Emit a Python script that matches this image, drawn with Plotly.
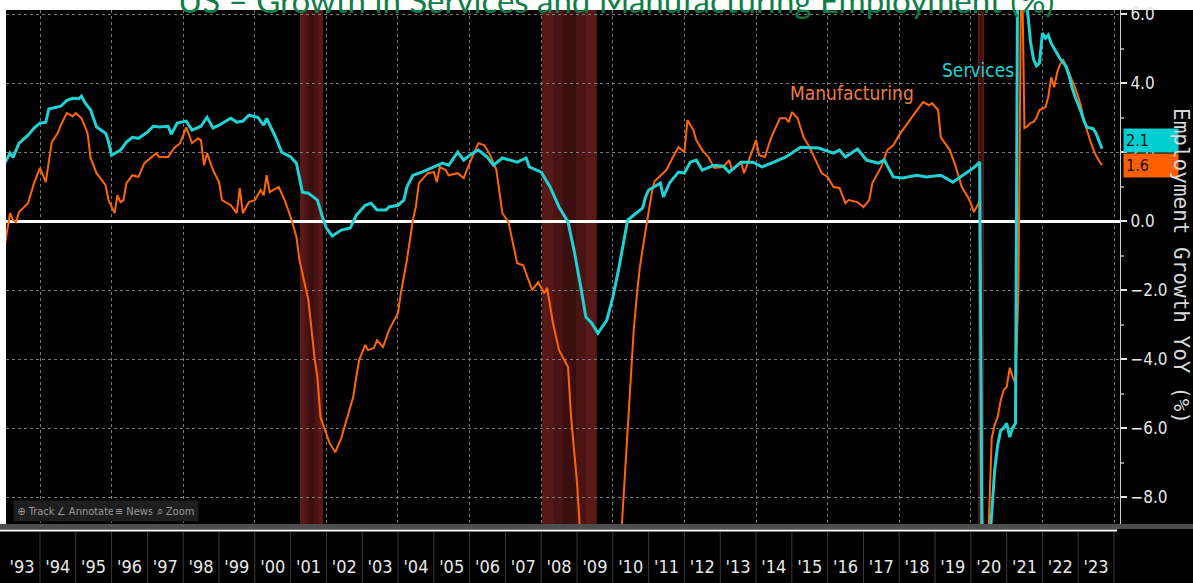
import pandas as pd
import plotly.graph_objects as go

# ---------------- data ----------------
S_DATES = ["1993-01","1993-03","1993-04","1993-06","1993-09","1993-11","1994-01","1994-03","1994-04","1994-06",
           "1994-08","1994-10","1994-12","1995-02","1995-03","1995-04","1995-06","1995-08","1995-11","1995-12",
           "1996-01","1996-04","1996-06","1996-08","1996-10","1997-01","1997-03","1997-05","1997-08","1997-09",
           "1997-11","1998-02","1998-04","1998-07","1998-09","1998-11","1999-01","1999-05","1999-07","1999-09",
           "1999-11","2000-02","2000-04","2000-05","2000-08","2000-10","2001-01","2001-03","2001-04","2001-05",
           "2001-07","2001-10","2001-12","2002-01","2002-03","2002-06","2002-09","2002-11","2003-02","2003-04",
           "2003-06","2003-09","2003-10","2004-01","2004-03","2004-04","2004-06","2004-09","2005-01","2005-04",
           "2005-06","2005-09","2005-11","2006-02","2006-04","2006-07","2006-09","2006-12","2007-05","2007-08",
           "2007-09","2008-01","2008-04","2008-07","2008-10","2008-12","2009-02","2009-04","2009-06","2009-08",
           "2009-11","2010-01","2010-03","2010-06","2010-08","2010-11","2010-12","2011-01","2011-05","2011-06",
           "2011-08","2011-11","2012-01","2012-03","2012-05","2012-07","2012-11","2013-02","2013-04","2013-08",
           "2013-12","2014-03","2014-07","2014-11","2015-04","2015-07","2015-10","2016-03","2016-05","2016-07",
           "2016-11","2017-02","2017-06","2017-08","2017-11","2018-02","2018-07","2018-10","2019-03","2019-07",
           "2019-12","2020-02","2020-04","2020-05","2020-06","2020-07","2020-08","2020-09","2020-10","2020-11",
           "2020-12","2021-01","2021-02","2021-03","2021-04","2021-05","2021-06","2021-07","2021-08","2021-09",
           "2021-10","2021-11","2021-12","2022-01","2022-02","2022-03","2022-04","2022-05","2022-06","2022-07",
           "2022-08","2022-09","2022-10","2022-11","2022-12","2023-01","2023-02","2023-03","2023-04","2023-05",
           "2023-06","2023-07","2023-08","2023-09"]
S_VALS = [1.65,1.97,1.85,2.26,2.49,2.70,2.84,2.87,3.25,3.30,
          3.33,3.50,3.56,3.55,3.62,3.45,3.22,2.73,2.55,2.30,
          1.91,2.06,2.29,2.43,2.40,2.58,2.75,2.73,2.75,2.52,
          2.84,2.90,2.64,2.75,3.01,2.70,2.78,2.98,2.87,2.90,
          3.07,3.01,2.78,2.98,2.43,2.00,1.86,1.68,1.30,0.84,
          0.81,0.61,0.03,-0.20,-0.43,-0.26,-0.20,0.17,0.46,0.52,
          0.32,0.32,0.41,0.46,0.61,0.99,1.33,1.42,1.57,1.68,
          1.62,2.00,1.77,1.97,2.06,1.85,1.62,1.83,1.71,1.83,
          1.57,1.42,0.99,0.41,-0.03,-0.84,-1.80,-2.78,-2.96,-3.25,
          -2.87,-2.20,-1.40,0.03,0.17,0.38,0.70,0.90,1.10,0.70,
          1.10,1.42,1.39,1.71,1.77,1.48,1.62,1.59,1.42,1.71,
          1.71,1.57,1.71,1.86,2.14,2.12,2.12,1.97,2.06,1.86,
          2.09,1.77,1.68,1.77,1.28,1.25,1.33,1.28,1.33,1.13,
          1.42,1.55,1.71,-13.5,-11.0,-9.8,-8.6,-7.2,-6.5,-6.06,
          -6.0,-5.86,-6.26,-6.0,-5.86,12.5,10.0,7.6,6.1,5.2,
          4.7,4.5,4.58,5.45,5.3,5.39,5.15,5.0,4.87,4.7,
          4.6,4.46,4.2,3.85,3.6,3.4,3.15,2.9,2.72,2.7,
          2.68,2.55,2.3,2.1]

M_DATES = ["1993-01","1993-03","1993-04","1993-05","1993-06","1993-09","1993-11","1994-01","1994-03","1994-05",
           "1994-07","1994-08","1994-10","1994-12","1995-01","1995-03","1995-05","1995-06","1995-08","1995-11",
           "1995-12","1996-02","1996-03","1996-04","1996-05","1996-06","1996-08","1996-10","1996-12","1997-02",
           "1997-04","1997-05","1997-08","1997-10","1997-12","1998-02","1998-04","1998-06","1998-07","1998-08",
           "1998-09","1998-11","1999-01","1999-02","1999-05","1999-07","1999-08","1999-09","1999-11","2000-01",
           "2000-03","2000-04","2000-05","2000-06","2000-09","2000-11","2001-01","2001-03","2001-04","2001-07",
           "2001-09","2001-10","2001-11","2002-02","2002-04","2002-06","2002-08","2002-10","2002-11","2002-12",
           "2003-02","2003-03","2003-05","2003-06","2003-08","2003-10","2004-01","2004-02","2004-04","2004-06",
           "2004-07","2004-08","2004-11","2005-01","2005-02","2005-03","2005-05","2005-06","2005-09","2005-11",
           "2006-01","2006-03","2006-04","2006-06","2006-08","2006-10","2006-12","2007-02","2007-04","2007-05",
           "2007-07","2007-09","2007-10","2007-12","2008-02","2008-03","2008-05","2008-07","2008-10","2008-11",
           "2009-01","2009-02","2009-04","2009-07","2009-10","2010-01","2010-03","2010-04","2010-05","2010-06",
           "2010-07","2010-08","2010-09","2010-10","2010-11","2010-12","2011-01","2011-02","2011-03","2011-05",
           "2011-07","2011-09","2011-11","2012-01","2012-02","2012-04","2012-05","2012-07","2012-09","2012-11",
           "2013-02","2013-04","2013-05","2013-08","2013-09","2013-11","2014-01","2014-02","2014-04","2014-06",
           "2014-09","2014-11","2014-12","2015-01","2015-03","2015-05","2015-07","2015-09","2015-11","2016-01",
           "2016-03","2016-05","2016-07","2016-08","2016-11","2017-01","2017-03","2017-04","2017-07","2017-09",
           "2017-11","2018-01","2018-04","2018-06","2018-09","2018-11","2018-12","2019-02","2019-03","2019-06",
           "2019-08","2019-10","2019-12","2020-01","2020-02","2020-03","2020-04","2020-05","2020-06","2020-07",
           "2020-08","2020-09","2020-10","2020-11","2020-12","2021-01","2021-02","2021-03","2021-04","2021-05",
           "2021-06","2021-07","2021-08","2021-09","2021-10","2021-11","2021-12","2022-01","2022-02","2022-03",
           "2022-04","2022-05","2022-06","2022-07","2022-08","2022-09","2022-10","2022-11","2022-12","2023-01",
           "2023-02","2023-03","2023-04","2023-05","2023-06","2023-07","2023-08","2023-09"]
M_VALS = [-0.80,0.23,0.03,-0.03,0.26,0.52,1.10,1.54,1.13,2.29,
          2.55,2.78,3.13,3.04,3.13,2.98,2.55,1.83,1.39,1.04,
          0.61,0.23,0.75,0.55,0.61,1.10,1.33,1.28,1.68,1.83,
          1.97,1.86,1.86,2.12,2.26,2.72,2.26,2.40,2.35,1.62,
          1.97,1.48,1.13,0.61,0.46,0.23,0.96,0.23,0.55,0.61,
          0.90,0.75,1.33,0.84,0.99,0.61,0.12,-0.46,-1.13,-2.29,
          -3.94,-4.52,-5.68,-6.43,-6.70,-6.29,-5.68,-5.10,-4.52,-4.03,
          -3.59,-3.74,-3.68,-3.45,-3.65,-3.16,-2.67,-2.06,-1.13,0.03,
          0.41,1.10,1.39,1.42,1.13,1.57,1.48,1.33,1.39,1.25,
          1.68,2.06,2.26,2.20,1.90,1.48,0.23,-0.03,-0.84,-1.22,
          -1.28,-1.80,-2.00,-1.77,-2.09,-1.94,-2.96,-3.74,-4.23,-5.68,
          -7.60,-9.0,-11.5,-13.0,-12.5,-11.0,-9.5,-8.9,-7.5,-6.0,
          -4.5,-3.2,-2.2,-1.4,-0.8,-0.3,0.3,0.8,1.15,1.33,
          1.48,1.83,2.14,2.00,2.93,2.64,2.35,2.06,1.86,1.54,
          1.57,1.77,1.48,1.71,1.39,1.86,2.35,1.91,1.86,2.40,
          2.98,2.98,2.87,3.16,2.98,2.43,2.14,1.77,1.39,1.28,
          0.99,0.96,0.52,0.61,0.55,0.41,0.61,1.10,1.57,2.06,
          2.20,2.50,2.87,3.10,3.45,3.36,3.42,3.22,2.43,2.06,
          1.57,0.99,0.70,0.52,0.26,0.40,0.58,-10.4,-9.6,-8.9,
          -6.3,-5.9,-5.68,-5.2,-4.9,-4.81,-4.25,-4.5,-4.7,-2.0,
          8.5,2.7,2.75,2.85,2.87,3.0,3.22,3.27,3.3,3.6,
          4.17,3.88,4.32,4.55,4.67,4.5,4.3,4.1,3.85,3.6,
          3.3,2.9,2.6,2.35,2.1,1.9,1.75,1.62]

REC_START = ["2001-04-06", "2008-01-10", "2020-03-13"]
REC_END = ["2001-11-27", "2009-07-21", "2020-05-15"]

YEARS = list(range(1993, 2024))
YEAR_LABELS = ["'" + str(y)[2:] for y in YEARS]

TITLE = "US \u2013 Growth in Services and Manufacturing Employment (%)"
Y_TITLE = "Employment Growth YoY (%)"

# ---------------- layout helpers ----------------
W, H = 1193, 583
L, R, T, B = 6, 73, 10, 59
PW, PH = W - L - R, H - T - B


def px_x(p):
    return (p - L) / PW


def px_y(p):
    return (H - B - p) / PH


NARROW = "Liberation Sans Narrow, DejaVu Sans Condensed, Arial Narrow, sans-serif"
CYAN = "#1fd2d4"
ORANGE = "#ff6600"

fig = go.Figure()

fig.add_trace(go.Scatter(x=M_DATES, y=M_VALS, mode="lines", name="Manufacturing",
                         line=dict(color=ORANGE, width=2), hoverinfo="skip"))
fig.add_trace(go.Scatter(x=S_DATES, y=S_VALS, mode="lines", name="Services",
                         line=dict(color=CYAN, width=3), hoverinfo="skip"))

shapes = []
# black right-hand panel and bottom strip
shapes.append(dict(type="rect", xref="paper", yref="paper", x0=1, x1=px_x(W), y0=px_y(H), y1=1,
                   fillcolor="black", line=dict(width=0), layer="below"))
shapes.append(dict(type="rect", xref="paper", yref="paper", x0=px_x(0), x1=px_x(W), y0=px_y(H), y1=0,
                   fillcolor="black", line=dict(width=0), layer="below"))
# recession shading (layered for a soft gradient)
for s, e in zip(REC_START, REC_END):
    s_, e_ = pd.Timestamp(s), pd.Timestamp(e)
    span = e_ - s_
    for frac, col in [(0.0, "#5a1919"), (0.2, "#4a1414"), (0.38, "#3b0f0f")]:
        shapes.append(dict(type="rect", xref="x", yref="paper",
                           x0=s_ + span * frac, x1=e_ - span * frac, y0=0, y1=1,
                           fillcolor=col, line=dict(width=0), layer="below"))
# grey divider bar and white line under the plot
shapes.append(dict(type="rect", xref="paper", yref="paper", x0=px_x(0), x1=px_x(W),
                   y0=px_y(529), y1=0, fillcolor="#4e4e4e", line=dict(width=0), layer="above"))
shapes.append(dict(type="line", xref="paper", yref="paper", x0=px_x(0), x1=px_x(1117),
                   y0=px_y(530.5), y1=px_y(530.5), line=dict(color="white", width=2), layer="above"))
# year separators in the bottom strip
for y in YEARS[1:] + [YEARS[-1] + 1]:
    shapes.append(dict(type="line", xref="x", yref="paper", x0=f"{y}-01-01", x1=f"{y}-01-01",
                       y0=px_y(H), y1=px_y(532), line=dict(color="#3a3a3a", width=1), layer="above"))

annotations = []
# title (partly cut by the top of the image)
annotations.append(dict(text=TITLE, xref="paper", yref="paper", x=px_x(616), y=px_y(22),
                        xanchor="center", yanchor="bottom", showarrow=False,
                        font=dict(family="Lato, Carlito, sans-serif", size=33, color="#0f7d48")))
# series labels
annotations.append(dict(text="Manufacturing", xref="x", yref="y", x="2016-09-01", y=3.71,
                        showarrow=False, font=dict(family=NARROW, size=19, color="#ec7d45")))
annotations.append(dict(text="Services", xref="x", yref="y", x="2020-03-15", y=4.38,
                        showarrow=False, font=dict(family=NARROW, size=19, color=CYAN)))
# last-value tags
annotations.append(dict(text=f"{M_VALS[-1]:.1f}", xref="paper", yref="y", x=px_x(1123), y=M_VALS[-1],
                        xanchor="left", yanchor="middle", showarrow=False, align="left",
                        width=50, height=19, bgcolor="#ff5f00", borderpad=2,
                        font=dict(family=NARROW, size=16, color="#111111")))
annotations.append(dict(text=f"{S_VALS[-1]:.1f}", xref="paper", yref="y", x=px_x(1123),
                        y=M_VALS[-1] + 25 / 34.5,
                        xanchor="left", yanchor="middle", showarrow=False, align="left",
                        width=50, height=19, bgcolor="#00cfd2", borderpad=2,
                        font=dict(family=NARROW, size=16, color="#111111")))
# right axis title
annotations.append(dict(text=Y_TITLE, xref="paper", yref="paper", x=px_x(1181), y=px_y(266),
                        textangle=90, showarrow=False, xanchor="center", yanchor="middle",
                        font=dict(family="DejaVu Sans Mono, monospace", size=21, color="#d9d9d9")))
# toolbar buttons
for label, cx, wd in [("\u2295 Track", 36, 42), ("\u2220 Annotate", 85.5, 55), ("\u2261 News", 134, 38),
                      ("\u2315 Zoom", 175, 43)]:
    annotations.append(dict(text=label, xref="paper", yref="paper", x=px_x(cx), y=px_y(511),
                            showarrow=False, xanchor="center", yanchor="middle",
                            width=wd, height=18, bgcolor="#1e1e1e",
                            font=dict(family=NARROW, size=11, color="#9a9a9a")))

mid_years = [f"{y}-07-02" for y in YEARS]
grid_dates = [f"{y}-01-01" for y in range(1994, 2025, 2)]

fig.update_layout(
    width=W, height=H,
    margin=dict(l=L, r=R, t=T, b=B, pad=0, autoexpand=False),
    paper_bgcolor="white", plot_bgcolor="black",
    showlegend=False,
    shapes=shapes, annotations=annotations,
    xaxis=dict(type="date", range=["1993-01-19", "2024-03-02"], showgrid=False, zeroline=False,
               showline=False, tickmode="array", tickvals=mid_years, ticktext=YEAR_LABELS,
               ticks="", ticklabelstandoff=30, automargin=False,
               tickfont=dict(family=NARROW, size=18, color="#e8e8e8"),
               minor=dict(tickmode="array", tickvals=grid_dates, showgrid=True, ticks="",
                          gridcolor="#7a7a7a", griddash="dot", gridwidth=1),
               fixedrange=True),
    yaxis=dict(side="right", range=[-8.78, 6.12], tickmode="linear", tick0=0, dtick=2,
               tickformat=".1f", showgrid=True, gridcolor="#7a7a7a", griddash="dot", gridwidth=1,
               zeroline=True, zerolinecolor="white", zerolinewidth=3, automargin=False,
               ticks="outside", ticklen=6, tickwidth=2, tickcolor="#e6e6e6",
               tickfont=dict(family=NARROW, size=17, color="#e6e6e6"),
               showline=True, linecolor="#cfcfcf", linewidth=1,
               minor=dict(dtick=1, tick0=0, ticks="outside", ticklen=3, tickcolor="#8a8a8a",
                          showgrid=False),
               fixedrange=True),
)

fig.write_html("out.html", config={"displayModeBar": False},
               post_script="document.body.style.margin='0px';document.body.style.overflow='hidden';")
